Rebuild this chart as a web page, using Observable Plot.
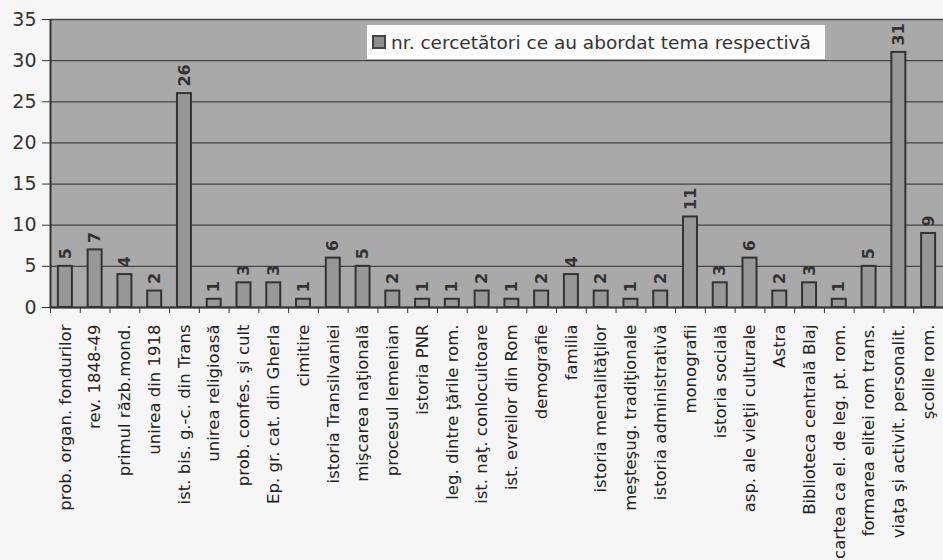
<!DOCTYPE html>
<html>
<head>
<meta charset="utf-8">
<script src="https://cdn.jsdelivr.net/npm/d3@7"></script>
<script src="https://cdn.jsdelivr.net/npm/@observablehq/plot@0.6"></script>
<style>
  html, body { margin: 0; padding: 0; background: #f6f6f6; }
  #wrap { position: relative; width: 943px; height: 560px; }
  #legend {
    position: absolute; left: 367px; top: 25px; width: 458px; height: 34px;
    background: #fbfbfb; box-sizing: border-box;
    font-family: "DejaVu Sans", Verdana, sans-serif; font-size: 18.5px; color: #333;
    display: flex; align-items: center; padding-left: 5px; white-space: nowrap;
  }
  #legend .sw { width: 10px; height: 10px; background: #8e8e8e; border: 2px solid #444; margin-right: 5px; flex: none; }
</style>
</head>
<body>
<div id="wrap"><div id="legend"><span class="sw"></span>nr. cercetători ce au abordat tema respectivă</div></div>
<script>
const categories = [
  "prob. organ. fondurilor", "rev. 1848-49", "primul răzb.mond.", "unirea din 1918",
  "ist. bis. g.-c. din Trans", "unirea religioasă", "prob. confes. şi cult", "Ep. gr. cat. din Gherla",
  "cimitire", "istoria Transilvaniei", "mişcarea naţională", "procesul lemenian", "istoria PNR",
  "leg. dintre ţările rom.", "ist. naţ. conlocuitoare", "ist. evreilor din Rom", "demografie",
  "familia", "istoria mentalităţilor", "meşteşug. tradiţionale", "istoria administrativă",
  "monografii", "istoria socială", "asp. ale vieţii culturale", "Astra", "Biblioteca centrală Blaj",
  "cartea ca el. de leg. pt. rom.", "formarea elitei rom trans.", "viaţa şi activit. personalit.", "şcolile rom."
];
const values = [5, 7, 4, 2, 26, 1, 3, 3, 1, 6, 5, 2, 1, 1, 2, 1, 2, 4, 2, 1, 2, 11, 3, 6, 2, 3, 1, 5, 31, 9];
const yTicks = [0, 5, 10, 15, 20, 25, 30, 35];

const data = categories.map((c, i) => ({category: c, value: values[i]}));
const step = (943 - 50) / categories.length;

const chart = Plot.plot({
  width: 943,
  height: 560,
  marginLeft: 50,
  marginRight: 0,
  marginTop: 19,
  marginBottom: 253,
  style: {background: "transparent", fontFamily: "DejaVu Sans, Verdana, sans-serif", color: "#333"},
  x: {type: "band", domain: categories, paddingInner: 0.53, paddingOuter: 0.265, round: false, label: null},
  y: {domain: [0, 35], label: null},
  marks: [
    Plot.frame({fill: "#a9a9a9", stroke: "none"}),
    Plot.ruleY(yTicks, {stroke: "#444", strokeWidth: 1.3}),
    Plot.ruleX([categories[0]], {dx: -step / 2, stroke: "#333", strokeWidth: 2}),
    Plot.barY(data, {x: "category", y: "value", fill: "#979797", stroke: "#333", strokeWidth: 2}),
    Plot.text(data, {x: "category", y: "value", text: d => String(d.value), rotate: -90, textAnchor: "start", dy: -7, fontSize: 16, fontWeight: "bold", fill: "#333"}),
    Plot.axisY({ticks: yTicks, tickSize: 8, tickPadding: 6, fontSize: 19, stroke: "#333", fill: "#333", label: null}),
    Plot.axisX({tickSize: 6, tickFormat: () => "", dx: -step / 2, stroke: "#333"}),
    Plot.axisX({tickSize: 0, tickPadding: 17, tickRotate: -90, fontSize: 16.5, fill: "#222", label: null}),
    Plot.ruleY([0], {stroke: "#333", strokeWidth: 2})
  ]
});
document.getElementById("wrap").prepend(chart);
</script>
</body>
</html>
